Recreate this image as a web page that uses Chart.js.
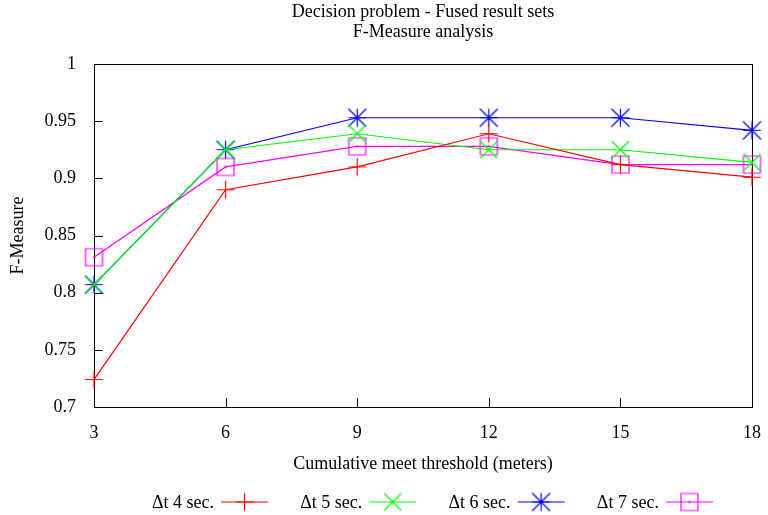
<!DOCTYPE html>
<html>
<head>
<meta charset="utf-8">
<script src="https://cdn.jsdelivr.net/npm/chart.js@4/dist/chart.umd.min.js"></script>
<style>
  html, body { margin: 0; padding: 0; background: #fff; overflow: hidden; }
  canvas { display: block; }
</style>
</head>
<body>
<canvas id="chart" width="768" height="515"></canvas>
<script>
// DATOS
const categories = ["3", "6", "9", "12", "15", "18"];
const dt4 = [0.724, 0.890, 0.910, 0.939, 0.912, 0.901];
const dt5 = [0.807, 0.925, 0.939, 0.925, 0.925, 0.914];
const dt6 = [0.807, 0.925, 0.953, 0.953, 0.953, 0.942];
const dt7 = [0.831, 0.910, 0.928, 0.928, 0.912, 0.912];
const seriesNames = ["Δt 4 sec.", "Δt 5 sec.", "Δt 6 sec.", "Δt 7 sec."];
const yTickLabels = ["0.7", "0.75", "0.8", "0.85", "0.9", "0.95", "1"];
const titleLines = ["Decision problem - Fused result sets", "F-Measure analysis"];

const FONT = "'Liberation Serif', 'DejaVu Serif', serif";
Chart.defaults.color = "#000";
Chart.defaults.font.family = FONT;
Chart.defaults.font.size = 18;

// MARCADORES ESTILO GNUPLOT
const makeMarker = (kind, color) => {
  const c = document.createElement("canvas");
  c.width = 21;
  c.height = 21;
  const g = c.getContext("2d");
  const m = 10.5;
  const s = kind === "box" || kind === "x" ? 8.5 : 9;
  g.strokeStyle = color;
  g.fillStyle = color;
  g.lineWidth = 1.2;
  g.beginPath();
  if (kind === "plus" || kind === "star") {
    g.moveTo(m - s, m); g.lineTo(m + s, m);
    g.moveTo(m, m - s); g.lineTo(m, m + s);
  }
  if (kind === "x" || kind === "star") {
    g.moveTo(m - s, m - s); g.lineTo(m + s, m + s);
    g.moveTo(m - s, m + s); g.lineTo(m + s, m - s);
  }
  if (kind === "box") {
    g.rect(m - s, m - s, 2 * s, 2 * s);
  }
  g.stroke();
  if (kind === "box") g.fillRect(m - 1, m - 1, 2, 2);
  return c;
};

const colors = ["#ff0000", "#00ff00", "#0000ff", "#ff00ff"];
const markers = [
  makeMarker("plus", colors[0]),
  makeMarker("x", colors[1]),
  makeMarker("star", colors[2]),
  makeMarker("box", colors[3]),
];

const makeDataset = (i, values) => ({
  label: seriesNames[i],
  data: values,
  borderColor: colors[i],
  backgroundColor: colors[i],
  borderWidth: 1.2,
  pointStyle: markers[i],
  tension: 0,
  clip: false,
});

// CAJA, MARCAS INTERIORES, TITULO Y LEYENDA
const gnuplotFrame = {
  id: "gnuplotFrame",
  beforeDatasetsDraw(chart) {
    const { ctx, chartArea: a, scales } = chart;
    ctx.save();
    ctx.strokeStyle = "#000";
    ctx.lineWidth = 1;
    ctx.beginPath();
    scales.y.ticks.forEach((t) => {
      const py = Math.round(scales.y.getPixelForValue(t.value)) + 0.5;
      ctx.moveTo(a.left, py);
      ctx.lineTo(a.left + 9, py);
    });
    categories.forEach((c, i) => {
      const px = Math.round(scales.x.getPixelForValue(i)) + 0.5;
      ctx.moveTo(px, a.bottom);
      ctx.lineTo(px, a.bottom - 9);
    });
    ctx.stroke();
    ctx.strokeRect(a.left + 0.5, a.top + 0.5, a.right - a.left, a.bottom - a.top);
    ctx.restore();
  },
  afterDraw(chart) {
    const { ctx, chartArea: a } = chart;
    ctx.save();
    ctx.font = "18px " + FONT;
    ctx.fillStyle = "#000";
    ctx.textAlign = "center";
    ctx.textBaseline = "middle";
    const cx = (a.left + a.right) / 2;
    titleLines.forEach((line, i) => ctx.fillText(line, cx, 12 + i * 20));

    const y = 502;
    ctx.textAlign = "right";
    seriesNames.forEach((name, i) => {
      const x0 = a.left + 127 + i * 148.3;
      ctx.fillStyle = "#000";
      ctx.fillText(name, x0 - 7, y + 1.5);
      ctx.strokeStyle = colors[i];
      ctx.lineWidth = 1.2;
      ctx.beginPath();
      ctx.moveTo(x0, y);
      ctx.lineTo(x0 + 47, y);
      ctx.stroke();
      ctx.drawImage(markers[i], x0 + 23.5 - 10.5, y - 10.5);
    });
    ctx.restore();
  },
};

new Chart(document.getElementById("chart"), {
  type: "line",
  data: {
    labels: categories,
    datasets: [
      makeDataset(0, dt4),
      makeDataset(1, dt5),
      makeDataset(2, dt6),
      makeDataset(3, dt7),
    ],
  },
  options: {
    responsive: false,
    animation: false,
    devicePixelRatio: 1,
    events: [],
    layout: { padding: { left: 0, right: 14, top: 64, bottom: 35 } },
    plugins: {
      legend: { display: false },
      tooltip: { enabled: false },
      title: { display: false },
    },
    scales: {
      x: {
        offset: false,
        grid: { display: false },
        border: { display: false },
        ticks: { padding: 7, maxRotation: 0, autoSkip: false },
        title: {
          display: true,
          text: "Cumulative meet threshold (meters)",
          padding: { top: 5, bottom: 5 },
        },
        afterFit: (scale) => { scale.height = 73; },
      },
      y: {
        min: 0.7,
        max: 1,
        grid: { display: false },
        border: { display: false },
        ticks: {
          stepSize: 0.05,
          padding: 10,
          callback: (v, i) => yTickLabels[i],
        },
        title: {
          display: true,
          text: "F-Measure",
          padding: { top: 7, bottom: 7 },
        },
        afterFit: (scale) => { scale.width = 94; },
      },
    },
  },
  plugins: [gnuplotFrame],
});
</script>
</body>
</html>
